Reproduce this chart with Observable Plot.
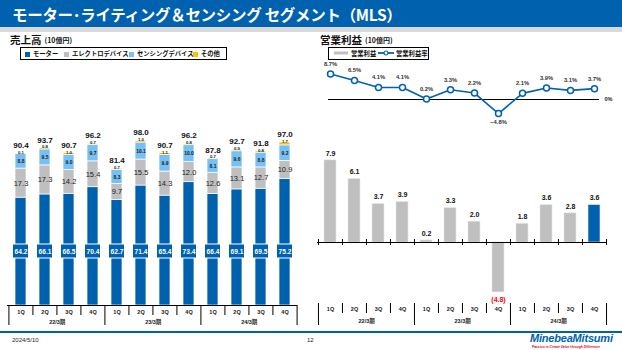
<!DOCTYPE html>
<html><head><meta charset="utf-8">
<script src="https://cdn.jsdelivr.net/npm/d3@7"></script>
<script src="https://cdn.jsdelivr.net/npm/@observablehq/plot@0.6"></script>
<style>
body{margin:0;width:622px;height:350px;position:relative;overflow:hidden;background:#fff;font-family:"Liberation Sans","Noto Sans CJK JP",sans-serif;}
.abs{position:absolute;}
#titlebar{left:0;top:0;width:622px;height:27px;background:#0061AF;}
#stripe{left:0;top:27px;width:622px;height:5px;background:#D9D9D9;}
#title{left:12px;top:3px;color:#fff;font-weight:bold;font-size:15.5px;font-family:"Noto Sans CJK JP",sans-serif;white-space:nowrap;letter-spacing:-0.3px;}
.head{font-weight:bold;font-size:10.5px;line-height:11px;font-family:"Noto Sans CJK JP",sans-serif;color:#111;white-space:nowrap;}
.head small{font-size:7px;margin-left:3px;vertical-align:1px;}
.legend{border:1px solid #000;height:13px;box-sizing:border-box;font-size:6.3px;font-weight:bold;font-family:"Noto Sans CJK JP",sans-serif;color:#111;white-space:nowrap;}
.li{position:absolute;top:2px;line-height:8px;}
.sw{display:inline-block;width:5px;height:5px;margin-right:3px;vertical-align:-0.5px;}
svg.plot{position:absolute;left:0;top:0;overflow:visible;background:transparent;}
#footline{left:0;top:331px;width:622px;height:1.5px;background:#0061AF;}
.foot{font-size:6px;color:#222;}
#logo{left:530px;top:332px;color:#0061AF;font-weight:bold;font-style:italic;font-size:11px;letter-spacing:-0.2px;font-family:"Liberation Sans",sans-serif;}
#tag{left:532px;top:345px;color:#E0002A;font-weight:bold;font-style:italic;font-size:3.3px;white-space:nowrap;}
</style></head>
<body>
<div id="titlebar" class="abs"></div>
<div id="stripe" class="abs"></div>
<div id="title" class="abs">モーター･ライティング＆センシング セグメント（MLS）</div>

<div class="abs head" style="left:10px;top:34px;">売上高<small>(10億円)</small></div>
<div class="abs legend" style="left:20px;top:47px;width:207px;">
  <span class="li" style="left:4px"><span class="sw" style="background:#0061AF"></span>モーター</span>
  <span class="li" style="left:43px"><span class="sw" style="background:#BFBFBF"></span>エレクトロデバイス</span>
  <span class="li" style="left:108px"><span class="sw" style="background:#75C0F5"></span>センシングデバイス</span>
  <span class="li" style="left:172px"><span class="sw" style="background:#FFC000"></span>その他</span>
</div>

<div class="abs head" style="left:320px;top:34px;">営業利益<small>(10億円)</small></div>
<div class="abs legend" style="left:328px;top:47px;width:101px;">
  <span class="li" style="left:5px"><svg width="14" height="6" style="vertical-align:0;margin-right:3px"><rect x="0" y="1.5" width="14" height="3" fill="#BFBFBF"/></svg>営業利益</span>
  <span class="li" style="left:49px"><svg width="16" height="6" style="vertical-align:0;margin-right:2px"><line x1="0" y1="3" x2="16" y2="3" stroke="#0061AF" stroke-width="1.8"/><circle cx="8" cy="3" r="2" fill="#fff" stroke="#0061AF" stroke-width="1.2"/></svg>営業利益率</span>
</div>

<div id="charts"></div>

<div id="footline" class="abs"></div>
<div class="abs foot" style="left:12px;top:337px;">2024/5/10</div>
<div class="abs foot" style="left:307px;top:337px;">12</div>
<div id="logo" class="abs">MinebeaMitsumi</div>
<div id="tag" class="abs">Passion to Create Value through Difference</div>

<script>
// ---- data ----
const years = ["22/3期","23/3期","24/3期"];
const quarters = ["1Q","2Q","3Q","4Q"];
const motor   = [64.2, 66.1, 66.5, 70.4, 62.7, 71.4, 65.4, 73.4, 66.4, 69.1, 69.5, 75.2];
const electro = [17.3, 17.3, 14.2, 15.4,  9.7, 15.5, 14.3, 12.0, 12.6, 13.1, 12.7, 10.9];
const sensing = [ 8.8,  9.5,  9.0,  9.7,  8.3, 10.1,  9.9, 10.0,  8.1,  9.6,  8.8,  9.2];
const other   = [ 0.1,  0.8,  1.0,  0.7,  0.7,  1.0,  1.1,  0.8,  0.7,  0.9,  0.8,  1.7];
const totals  = [90.4, 93.7, 90.7, 96.2, 81.4, 98.0, 90.7, 96.2, 87.8, 92.7, 91.8, 97.0];
const profit  = [ 7.9,  6.1,  3.7,  3.9,  0.2,  3.3,  2.0, -4.8,  1.8,  3.6,  2.8,  3.6];
const margin  = [ 8.7,  6.5,  4.1,  4.1,  0.2,  3.3,  2.2, -4.8,  2.1,  3.9,  3.1,  3.7];
const seriesNames = ["モーター","エレクトロデバイス","センシングデバイス","その他"];
const seriesColors = ["#0061AF","#BFBFBF","#75C0F5","#FFC000"];

// ---- derived ----
const cats = years.flatMap(y => quarters.map(q => y + " " + q));
const rows = cats.map((c, i) => ({cat: c, q: quarters[i % 4], year: years[Math.floor(i/4)], i,
  motor: motor[i], electro: electro[i], sensing: sensing[i], other: other[i], total: totals[i],
  profit: profit[i], margin: margin[i]}));
const long = rows.flatMap(r => [
  {cat: r.cat, series: seriesNames[0], value: r.motor},
  {cat: r.cat, series: seriesNames[1], value: r.electro},
  {cat: r.cat, series: seriesNames[2], value: r.sensing},
  {cat: r.cat, series: seriesNames[3], value: r.other}]);
const yearStarts = rows.filter(r => r.i % 4 === 0);
const f1 = d3.format(".1f");
const FONT = "Liberation Sans, Noto Sans CJK JP, sans-serif";
const charts = document.getElementById("charts");
function add(p){ p.classList.add("plot"); charts.appendChild(p); }

// ---- left: sales stacked bars ----
{
  const x0 = 7, x1 = 297, zeroPx = 305, k = 1.68;
  const step = (x1 - x0) / cats.length;
  const below = px => -px / k; // pixels below the axis, in data units
  add(Plot.plot({
    width: 622, height: 350, marginLeft: x0, marginRight: 622 - x1, marginTop: 30, marginBottom: 350 - zeroPx,
    style: {fontFamily: FONT, background: "transparent", overflow: "visible"},
    x: {type: "band", domain: cats, range: [x0, x1], paddingInner: 0.545, paddingOuter: 0.2725, axis: null},
    y: {domain: [0, 100], range: [zeroPx, zeroPx - 100 * k], axis: null},
    color: {domain: seriesNames, range: seriesColors},
    marks: [
      Plot.barY(long, {x: "cat", y: "value", fill: "series", stroke: "white", strokeWidth: 0.7}),
      Plot.barY(rows, {x: "cat", y1: below(-47), y2: below(-61), fill: "#0061AF", stroke: "white", strokeWidth: 1, insetLeft: -2.5, insetRight: -2.5}),
      Plot.text(rows, {x: "cat", y: below(-54), text: d => f1(d.motor), fill: "white", fontWeight: "bold", fontSize: 6.6}),
      Plot.text(rows, {x: "cat", y: d => d.motor + d.electro / 2, text: d => f1(d.electro), fill: "#222", fontSize: 7.5}),
      Plot.text(rows, {x: "cat", y: d => d.motor + d.electro + d.sensing / 2, text: d => f1(d.sensing), fill: "#222", fontSize: 5, fontWeight: "bold"}),
      Plot.text(rows, {x: "cat", y: d => d.total, dy: -1, text: d => f1(d.other), fill: "#222", fontSize: 4.3, fontWeight: "bold"}),
      Plot.text(rows, {x: "cat", y: "total", dy: -8, text: d => f1(d.total), fill: "#111", fontWeight: "bold", fontSize: 8}),
      Plot.ruleY([0], {stroke: "#000", strokeWidth: 1.2}),
      Plot.ruleX(rows, {x: "cat", dx: -step / 2, y1: 0, y2: d => d.i % 4 === 0 ? below(20) : below(10), stroke: "#000", strokeWidth: 1}),
      Plot.ruleX([rows[rows.length - 1]], {x: "cat", dx: step / 2, y1: 0, y2: below(20), stroke: "#000", strokeWidth: 1}),
      Plot.text(rows, {x: "cat", y: below(7), text: "q", fontSize: 5.5, fontWeight: "bold", fill: "#222"}),
      Plot.text(yearStarts, {x: "cat", dx: step * 1.5, y: below(17), text: "year", fontSize: 5.5, fontWeight: "bold", fill: "#222"})
    ]
  }));
}

// ---- right: operating profit bars ----
{
  const x0 = 317, x1 = 606, zeroPx = 242, k = 10.4;
  const step = (x1 - x0) / cats.length;
  const below = px => -px / k;
  add(Plot.plot({
    width: 622, height: 350, marginLeft: x0, marginRight: 622 - x1, marginTop: 30, marginBottom: 40,
    style: {fontFamily: FONT, background: "transparent", overflow: "visible"},
    x: {type: "band", domain: cats, range: [x0, x1], paddingInner: 0.5, paddingOuter: 0.25, axis: null},
    y: {domain: [-5, 8], range: [zeroPx + 5 * k, zeroPx - 8 * k], axis: null},
    marks: [
      Plot.barY(rows, {x: "cat", y: "profit", fill: d => d.i === rows.length - 1 ? "#0061AF" : "#BFBFBF", stroke: "#E6E6E6", strokeWidth: 0.6}),
      Plot.text(rows.filter(d => d.profit >= 0), {x: "cat", y: "profit", dy: -7, text: d => f1(d.profit), fill: "#111", fontWeight: "bold", fontSize: 7}),
      Plot.text(rows.filter(d => d.profit < 0), {x: "cat", y: "profit", dy: 7, text: d => "(" + f1(-d.profit) + ")", fill: "#FF0000", fontWeight: "bold", fontSize: 7}),
      Plot.ruleY([0], {stroke: "#000", strokeWidth: 1.2}),
      Plot.ruleX(rows, {x: "cat", dx: -step / 2, y1: below(-3), y2: below(3), stroke: "#000", strokeWidth: 1}),
      Plot.ruleX([rows[rows.length - 1]], {x: "cat", dx: step / 2, y1: below(-3), y2: below(3), stroke: "#000", strokeWidth: 1}),
      Plot.ruleX(rows, {x: "cat", dx: -step / 2, y1: below(61), y2: d => d.i % 4 === 0 ? below(83) : below(71), stroke: "#000", strokeWidth: 1}),
      Plot.ruleX([rows[rows.length - 1]], {x: "cat", dx: step / 2, y1: below(61), y2: below(83), stroke: "#000", strokeWidth: 1}),
      Plot.text(rows, {x: "cat", y: below(67), text: "q", fontSize: 5.5, fontWeight: "bold", fill: "#222"}),
      Plot.text(yearStarts, {x: "cat", dx: step * 1.5, y: below(79), text: "year", fontSize: 5.5, fontWeight: "bold", fill: "#222"})
    ]
  }));
}

// ---- right: operating margin line ----
{
  const zeroPx = 99, k = 2.93;
  add(Plot.plot({
    width: 622, height: 350, marginLeft: 328, marginRight: 622 - 599, marginTop: 60, marginBottom: 200,
    style: {fontFamily: FONT, background: "transparent", overflow: "visible"},
    x: {type: "band", domain: cats, range: [317, 606], paddingInner: 0.5, paddingOuter: 0.25, axis: null},
    y: {domain: [-5, 9], range: [zeroPx + 5 * k, zeroPx - 9 * k], axis: null},
    marks: [
      Plot.ruleY([0], {stroke: "#000", strokeWidth: 1.2}),
      Plot.text([0], {y: d => d, frameAnchor: "right", textAnchor: "start", dx: 5, text: () => "0%", fontSize: 5.5, fontWeight: "bold", fill: "#222"}),
      Plot.line(rows, {x: "cat", y: "margin", stroke: "#0061AF", strokeWidth: 1.6}),
      Plot.dot(rows, {x: "cat", y: "margin", r: 3, fill: "white", stroke: "#0061AF", strokeWidth: 1.5}),
      Plot.text(rows.filter(d => d.margin >= 0), {x: "cat", y: "margin", dy: -10, text: d => f1(d.margin) + "%", fontSize: 5.8, fontWeight: "bold", fill: "#333"}),
      Plot.text(rows.filter(d => d.margin < 0), {x: "cat", y: "margin", dy: 9, text: d => f1(d.margin) + "%", fontSize: 5.8, fontWeight: "bold", fill: "#333"})
    ]
  }));
}
</script>
</body></html>
